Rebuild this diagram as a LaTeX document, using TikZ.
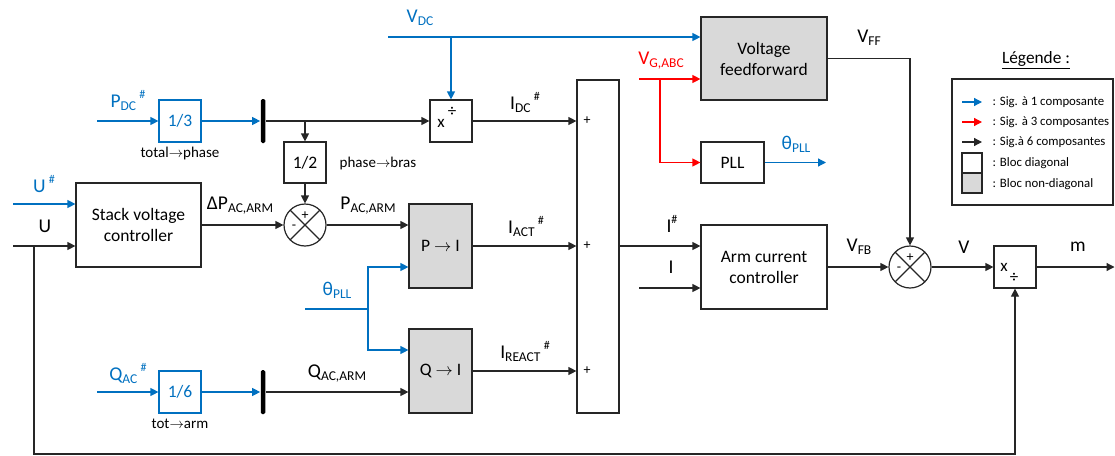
\documentclass[tikz,border=0pt]{standalone}
\usepackage{fontspec}
\setmainfont{Carlito}
\usetikzlibrary{arrows.meta,calc}
\definecolor{sigblue}{HTML}{0070C0}
\definecolor{sigred}{HTML}{FF0000}
\definecolor{blkgray}{HTML}{D9D9D9}
\definecolor{ln}{HTML}{262626}
\newcommand{\fsig}{\fontsize{19.5}{22}\selectfont}
\newcommand{\fsub}{\fontsize{13.5}{15}\selectfont}
\newcommand{\fsupx}{\fontsize{12}{14}\selectfont}
\newcommand{\fblk}{\fontsize{17.5}{21}\selectfont}
\newcommand{\fsml}{\fontsize{15}{18}\selectfont}
\newcommand{\fdiv}{\fontsize{17}{18}\selectfont}
\newcommand{\fleg}{\fontsize{12.8}{15}\selectfont}
\newcommand{\fsgn}{\fontsize{14}{16}\selectfont}
\newcommand{\sbs}[1]{\raisebox{-3pt}{\fsub #1}}
\newcommand{\sps}[1]{\raisebox{9pt}{\fsupx #1}}
\newcommand{\rarr}{$\rightarrow$}
\begin{document}
\begin{tikzpicture}[x=1pt,y=-1pt,
  >={Triangle[length=8pt,width=8pt]},
  every path/.style={line width=1.2pt},
  blk/.style={draw=ln, line width=1.2pt, inner sep=0pt, align=center, font=\fblk, text=black},
  diag/.style={blk, fill=white},
  ndiag/.style={blk, fill=blkgray},
  bluebox/.style={blk, draw=sigblue, text=sigblue, fill=white},
  sumc/.style={circle, draw=ln, fill=white, minimum size=42pt, inner sep=0pt,
    path picture={\draw[ln,line width=1.1pt] (path picture bounding box.north west) -- (path picture bounding box.south east)
      (path picture bounding box.north east) -- (path picture bounding box.south west);}},
  barn/.style={fill=black, minimum width=4.5pt, minimum height=44pt, inner sep=0pt, rounded corners=1.5pt},
  lbl/.style={font=\fsig, inner sep=0pt},
  sml/.style={font=\fsml, inner sep=0pt},
  sgn/.style={font=\fsgn, inner sep=0pt},
  legt/.style={font=\fleg, inner sep=0pt, anchor=west},
  blue/.style={sigblue},
  red/.style={sigred},
  blk line/.style={ln}
]
\useasboundingbox (0,0) rectangle (1115,455);

% ---------- blocks ----------
\node[ndiag, minimum width=126pt, minimum height=83pt] (ff) at (764,58.5) {Voltage\\feedforward};
\node[diag, minimum width=63pt, minimum height=41pt] (pll) at (732.5,162.5) {PLL};
\node[diag, minimum width=126pt, minimum height=84pt] (acc) at (764,267) {Arm current\\controller};
\node[diag, minimum width=125pt, minimum height=84pt] (svc) at (138.5,225) {Stack voltage\\controller};
\node[bluebox, minimum width=42pt, minimum height=42pt] (b13) at (180,121) {1/3};
\node[bluebox, minimum width=42pt, minimum height=42pt] (b16) at (180,392) {1/6};
\node[diag, minimum width=42pt, minimum height=41pt] (b12) at (305,162.5) {1/2};
\node[diag, minimum width=42pt, minimum height=42pt] (div1) at (451,121) {};
\node[diag, minimum width=42pt, minimum height=42pt] (div2) at (1015,267) {};
\node[ndiag, minimum width=63pt, minimum height=84pt] (pi) at (440.5,246) {P \rarr{} I};
\node[ndiag, minimum width=63pt, minimum height=84pt] (qi) at (440.5,371) {Q \rarr{} I};
\node[diag, minimum width=42pt, minimum height=333pt] (bs) at (598,246.5) {};
\node[sumc] (s1) at (305,225) {};
\node[sumc] (s2) at (910,267) {};
\node[barn] (bar1) at (263,121) {};
\node[barn] (bar2) at (263,392) {};

% signs inside blocks
\node[font=\fdiv, inner sep=0pt] (d1x) at ($(div1)+(-10,2)$) {x};
\node[font=\fdiv, inner sep=0pt] (d1d) at ($(div1)+(1,-9)$) {÷};
\node[font=\fdiv, inner sep=0pt] (d2x) at ($(div2)+(-11,0)$) {x};
\node[font=\fdiv, inner sep=0pt] (d2d) at ($(div2)+(-1,11)$) {÷};
\node[sgn] (bsp1) at (587,121) {+};
\node[sgn] (bsp2) at (587,246) {+};
\node[sgn] (bsp3) at (587,371) {+};
\node[sgn] (s1p) at ($(s1)+(0,-9)$) {+};
\node[sgn] (s1m) at ($(s1)+(-11,2)$) {-};
\node[sgn] (s2p) at ($(s2)+(0,-9)$) {+};
\node[sgn] (s2m) at ($(s2)+(-11,2)$) {-};

% ---------- blue signals ----------
\coordinate (vdcin) at (388,37);
\draw[blue,->] (vdcin) -- (vdcin -| ff.west);
\draw[blue,->] (div1.north |- vdcin) -- (div1.north);
\coordinate (pdcin) at (97,121);
\draw[blue,->] (pdcin) -- (b13.west);
\draw[blue,->] (b13.east) -- (bar1.west);
\coordinate (uhin) at (13,204);
\draw[blue,->] (uhin) -- (uhin -| svc.west);
\coordinate (qacin) at (97,392);
\draw[blue,->] (qacin) -- (b16.west);
\draw[blue,->] (b16.east) -- (bar2.west);
\coordinate (thin) at (305,309);
\coordinate (thj) at (368,309);
\draw[blue] (thin) -- (thj);
\draw[blue,->] (thj) |- ($(pi.west)+(0,21)$);
\draw[blue,->] (thj) |- ($(qi.west)+(0,-21)$);
\coordinate (thout) at (826,162.5);
\draw[blue,->] (pll.east) -- (thout);

% ---------- red signals ----------
\coordinate (vgin) at (639,79);
\coordinate (vgbr) at (660,79);
\draw[red,->] (vgin) -- (vgin -| ff.west);
\draw[red,->] (vgbr) |- (pll.west);

% ---------- black signals ----------
\draw[blk line,->] (bar1.east) -- (div1.west);
\draw[blk line,->] (b12.north |- bar1.east) -- (b12.north);
\draw[blk line,->] (b12.south) -- (s1.north);
\draw[blk line,->] (svc.east) -- (s1.west);
\draw[blk line,->] (s1.east) -- ($(pi.west)+(0,-21)$);
\draw[blk line,->] (bar2.east) -- ($(qi.west)+(0,21)$);
\draw[blk line,->] (div1.east) -- (div1.east -| bs.west);
\draw[blk line,->] (pi.east) -- (pi.east -| bs.west);
\draw[blk line,->] (qi.east) -- (qi.east -| bs.west);
\coordinate (accA) at ($(acc.west)+(0,-21)$);
\draw[blk line,->] (accA -| bs.east) -- (accA);
\coordinate (iin) at (639,288);
\draw[blk line,->] (iin) -- (iin -| acc.west);
\draw[blk line,->] (acc.east) -- (s2.west);
\draw[blk line,->] (ff.east) -| (s2.north);
\draw[blk line,->] (s2.east) -- (div2.west);
\coordinate (mout) at (1114.5,267);
\draw[blk line,->] (div2.east) -- (mout);
\coordinate (uin) at (13,246);
\coordinate (ubr) at (34,246);
\coordinate (ubot) at (34,454);
\draw[blk line,->] (uin) -- (uin -| svc.west);
\draw[blk line,->] (ubr) -- (ubot) -| (div2.south);

% ---------- labels ----------
\node[lbl, text=sigblue] (lvdc) at (420,18) {V\sbs{DC}};
\node[lbl, text=sigred] (lvg) at (661,61) {V\sbs{G,ABC}};
\node[lbl] (lvff) at (869,38) {V\sbs{FF}};
\node[lbl, text=sigblue] (lthp) at (796,144) {θ\sbs{PLL}};
\node[lbl, text=sigblue] (lpdc) at (128,100) {P\sbs{DC}\,\sps{\#}};
\node[sml] (ltp) at (180,153) {total\rarr{}phase};
\node[sml] (lpb) at (378,163) {phase\rarr{}bras};
\node[lbl, text=sigblue] (luh) at (44,184) {U\,\sps{\#}};
\node[lbl] (lu) at (45,226) {U};
\node[lbl] (ldp) at (240,206) {ΔP\sbs{AC,ARM}};
\node[lbl] (lpac) at (368,206) {P\sbs{AC,ARM}};
\node[lbl] (lidc) at (525,102) {I\sbs{DC}\,\sps{\#}};
\node[lbl] (liact) at (526,226) {I\sbs{ACT}\,\sps{\#}};
\node[lbl] (lirea) at (525,351) {I\sbs{REACT}\,\sps{\#}};
\node[lbl] (lih) at (672,224) {I\sps{\#}};
\node[lbl] (li) at (671,267) {I};
\node[lbl, text=sigblue] (lthl) at (337,290) {θ\sbs{PLL}};
\node[lbl, text=sigblue] (lqac) at (128,373) {Q\sbs{AC}\,\sps{\#}};
\node[sml] (lta) at (180,424) {tot\rarr{}arm};
\node[lbl] (lqarm) at (337,374) {Q\sbs{AC,ARM}};
\node[lbl] (lvfb) at (859,247) {V\sbs{FB}};
\node[lbl] (lv) at (964,247) {V};
\node[lbl] (lm) at (1078,247) {m};

% ---------- legend ----------
\node[font=\fontsize{17.3}{20}\selectfont, inner sep=0pt] (legt) at (1036,60) {\underline{Légende :}};
\node[draw=ln, line width=1.2pt, minimum width=161pt, minimum height=126pt, inner sep=0pt] (leg) at (1032.5,142) {};
\coordinate (la1) at (962,102); \coordinate (lb1) at (982,102);
\coordinate (la2) at (962,122); \coordinate (lb2) at (982,122);
\coordinate (la3) at (962,142); \coordinate (lb3) at (982,142);
\draw[blue,->] (la1) -- (lb1);
\draw[red,->] (la2) -- (lb2);
\draw[blk line,->] (la3) -- (lb3);
\node[diag, minimum width=20pt, minimum height=20pt] (lwb) at (972,163) {};
\node[ndiag, minimum width=20pt, minimum height=20pt] (lgb) at (972,183) {};
\node[legt] (lt1) at (992,102) {: Sig. à 1 composante};
\node[legt] (lt2) at (992,122) {: Sig. à 3 composantes};
\node[legt] (lt3) at (992,142) {: Sig.à 6 composantes};
\node[legt] (lt4) at (992,163) {: Bloc diagonal};
\node[legt] (lt5) at (992,184) {: Bloc non-diagonal};
\end{tikzpicture}
\end{document}
